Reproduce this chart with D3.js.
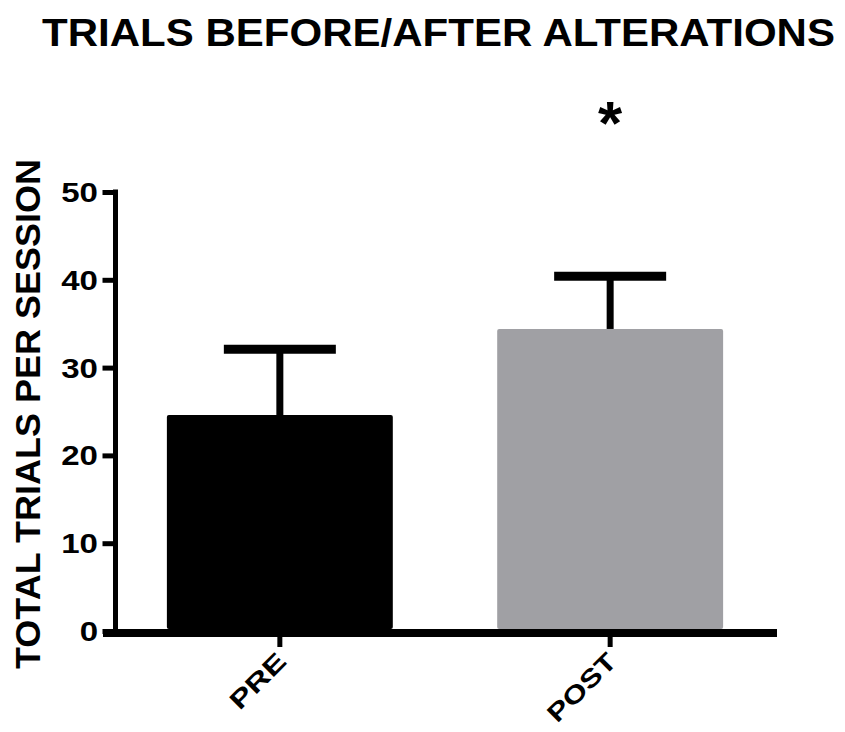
<!DOCTYPE html>
<html>
<head>
<meta charset="utf-8">
<script src="https://cdn.jsdelivr.net/npm/d3@7"></script>
<style>
  html, body { margin: 0; padding: 0; background: #fff; }
  text { font-family: "Liberation Sans", Arial, Helvetica, sans-serif; font-weight: bold; fill: #000; }
</style>
</head>
<body>
<svg id="chart" width="845" height="732"></svg>
<script>
// ---- data ----
const categories = ["PRE", "POST"];
const means = [24.6, 34.4];
const errors = [7.5, 6.0];
const barColors = ["#000000", "#a0a0a4"];
const yTicks = [0, 10, 20, 30, 40, 50];
const title = "TRIALS BEFORE/AFTER ALTERATIONS";
const yTitle = "TOTAL TRIALS PER SESSION";
const significance = ["", "*"];

const svg = d3.select("#chart");

const y = d3.scaleLinear().domain([0, 50]).range([631, 192]);
const x = d3.scaleBand().domain(categories).range([118, 772])
  .paddingInner(0.316).paddingOuter(0.148);

// title
svg.append("text").attr("x", 42).attr("y", 46)
  .attr("font-size", 38).attr("textLength", 793).attr("lengthAdjust", "spacingAndGlyphs")
  .text(title);

// bars
svg.selectAll("rect.bar").data(categories).enter().append("rect")
  .attr("class", "bar")
  .attr("x", d => x(d))
  .attr("y", (d, i) => y(means[i]))
  .attr("width", x.bandwidth())
  .attr("height", (d, i) => y(0) - y(means[i]) - 2)
  .attr("rx", 2)
  .attr("fill", (d, i) => barColors[i]);

// error bars
const capHalf = 56;
categories.forEach((c, i) => {
  const cx = x(c) + x.bandwidth() / 2;
  svg.append("line").attr("x1", cx).attr("x2", cx)
    .attr("y1", y(means[i])).attr("y2", y(means[i] + errors[i]))
    .attr("stroke", "#000").attr("stroke-width", 7);
  svg.append("line").attr("x1", cx - capHalf).attr("x2", cx + capHalf)
    .attr("y1", y(means[i] + errors[i])).attr("y2", y(means[i] + errors[i]))
    .attr("stroke", "#000").attr("stroke-width", 9);
  if (significance[i]) {
    svg.append("text").attr("x", cx).attr("y", 144)
      .attr("text-anchor", "middle").attr("font-size", 62)
      .text(significance[i]);
  }
});

// y axis
const yAxis = d3.axisLeft(y).tickValues(yTicks).tickSize(13).tickSizeOuter(0).tickPadding(6);
const gy = svg.append("g").attr("transform", "translate(115.5,0)").call(yAxis);
gy.select(".domain").attr("stroke", "#000").attr("stroke-width", 5)
  .attr("d", `M0,${y(50) - 2.5}V${y(0) + 6}`);
gy.selectAll(".tick line").attr("stroke", "#000").attr("stroke-width", 5);
gy.selectAll(".tick text").remove();
yTicks.forEach(v => {
  svg.append("text")
    .attr("transform", `translate(98,${y(v)}) scale(1.18,1)`)
    .attr("text-anchor", "end").attr("dy", "0.36em")
    .attr("font-size", 28).text(v);
});

// x axis
svg.append("line").attr("x1", 103).attr("x2", 777)
  .attr("y1", y(0) + 2).attr("y2", y(0) + 2)
  .attr("stroke", "#000").attr("stroke-width", 8);
const xLabelLen = {PRE: 68, POST: 86};
categories.forEach(c => {
  const cx = x(c) + x.bandwidth() / 2;
  svg.append("line").attr("x1", cx).attr("x2", cx)
    .attr("y1", y(0) + 5).attr("y2", y(0) + 16)
    .attr("stroke", "#000").attr("stroke-width", 5);
  svg.append("text")
    .attr("transform", `translate(${cx + 8},${y(0) + 32}) rotate(-45)`)
    .attr("text-anchor", "end").attr("font-size", 25)
    .attr("textLength", xLabelLen[c]).attr("lengthAdjust", "spacingAndGlyphs")
    .text(c);
});

// y title
svg.append("text")
  .attr("transform", `translate(40,414) rotate(-90)`)
  .attr("text-anchor", "middle").attr("font-size", 35)
  .attr("textLength", 510).attr("lengthAdjust", "spacingAndGlyphs")
  .text(yTitle);
</script>
</body>
</html>
